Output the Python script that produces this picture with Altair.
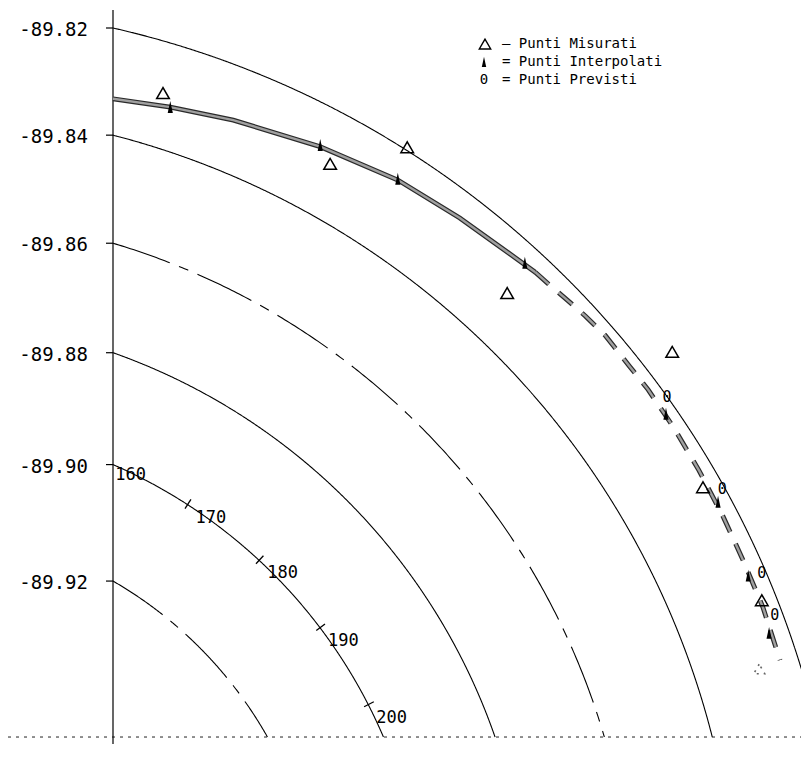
import altair as alt
import numpy as np
import pandas as pd

# ---------------- data ----------------
# Plot frame is a polar (South Pole centred) projection.
# Units: hundredths of a degree of distance from the pole (x east-ish, y north-ish in the frame).
circle_lat = [-89.82, -89.84, -89.86, -89.88, -89.90, -89.92]
circle_style = ["solid", "solid", "dashdot", "solid", "solid", "dashdot"]
circle_label = ["-89.82", "-89.84", "-89.86", "-89.88", "-89.90", "-89.92"]

lon_marks = [160, 170, 180, 190, 200]
lon_mark_label = ["160", "170", "180", "190", "200"]
lon_circle = -89.90
lon_orient = 227.1          # screen angle (deg) + longitude

frame_x = 4.0               # vertical axis offset from pole
frame_y = 3.933             # bottom line offset from pole

# Punti Misurati
meas_x = [4.96, 8.17, 9.65, 11.57, 14.74, 15.33, 16.46]
meas_y = [16.30, 14.94, 15.26, 12.46, 11.33, 8.73, 6.56]
# last measured point, printed only faintly
faint_x = [16.41]
faint_y = [5.24]
# Punti Interpolati
interp_x = [5.10, 7.98, 9.47, 11.91, 14.62, 15.62, 16.20, 16.60]
interp_y = [16.03, 15.30, 14.65, 13.04, 10.14, 8.45, 7.03, 5.93]
# Punti Previsti
pred_x = [14.64, 15.70, 16.46, 16.71]
pred_y = [10.46, 8.70, 7.08, 6.28]
# interpolated track (solid)
track_x = [4.00, 5.10, 6.31, 7.98, 9.47, 10.66, 11.43, 12.11]
track_y = [16.19, 16.03, 15.78, 15.27, 14.63, 13.90, 13.35, 12.86]
# predicted track (dashed)
fore_x = [12.11, 12.39, 12.72, 13.07, 13.45, 13.93, 14.28, 14.76, 15.25, 15.72, 16.10, 16.48, 16.81]
fore_y = [12.86, 12.61, 12.33, 12.02, 11.65, 11.04, 10.60, 9.89, 9.06, 8.16, 7.33, 6.43, 5.41]

legend_text = ["\u2013 Punti Misurati", "= Punti Interpolati", "= Punti Previsti"]

# ---------------- layout ----------------
W, H = 688, 736
xs = alt.Scale(domain=[4.0, 17.213], nice=False, zero=False)
ys = alt.Scale(domain=[3.799, 17.934], nice=False, zero=False)
FONT = "DejaVu Sans Mono"


def X(f):
    return alt.X(f, type="quantitative", scale=xs, axis=None)


def Y(f):
    return alt.Y(f, type="quantitative", scale=ys, axis=None)


# latitude circles
rows = []
for lat, st in zip(circle_lat, circle_style):
    r = (lat + 90) * 100
    t0 = np.arccos(frame_x / r)
    t1 = np.arcsin(frame_y / r)
    for i, t in enumerate(np.linspace(t0, t1, 240)):
        rows.append(dict(lat=str(lat), style=st, i=i, x=r * np.cos(t), y=r * np.sin(t)))
arcs_df = pd.DataFrame(rows)

arcs = alt.Chart(arcs_df).mark_line(color="black", strokeWidth=1.1, clip=True).encode(
    x=X("x"), y=Y("y"), detail="lat:N", order="i:Q",
    strokeDash=alt.StrokeDash("style:N", scale=alt.Scale(domain=["solid", "dashdot"],
                                                         range=[[1, 0], [60, 10, 10, 10]]), legend=None),
)

# y-axis (latitudes where circles meet the vertical line)
lab_df = pd.DataFrame({
    "label": circle_label,
    "ty": [np.sqrt(((l + 90) * 100) ** 2 - frame_x ** 2) for l in circle_lat],
})
axis_line = alt.Chart(pd.DataFrame({"a": [0]})).mark_rule(color="black", strokeWidth=1.2).encode(
    x=alt.value(0), y=alt.value(2), y2=alt.value(H))
yticks = alt.Chart(lab_df).mark_rule(color="black", strokeWidth=1.2).encode(
    x=alt.value(-7), x2=alt.value(0), y=Y("ty"))
ylabels = alt.Chart(lab_df).mark_text(align="right", baseline="middle", font=FONT, fontSize=19,
                                      dx=-25, dy=2, color="black").encode(
    x=alt.value(0), y=Y("ty"), text="label:N")

bottom = alt.Chart(pd.DataFrame({"fy": [frame_y]})).mark_rule(
    color="#222", strokeWidth=1, strokeDash=[3, 5]).encode(
    x=alt.value(-105), x2=alt.value(W), y=Y("fy"))

# longitude marks on the -89.90 circle
rl = (lon_circle + 90) * 100
th = np.radians(lon_orient - np.array(lon_marks, dtype=float))
lon_df = pd.DataFrame({
    "lab": lon_mark_label,
    "x": rl * np.cos(th), "y": rl * np.sin(th),
    "x1": (rl - 0.09) * np.cos(th), "y1": (rl - 0.09) * np.sin(th),
    "x2": (rl + 0.12) * np.cos(th), "y2": (rl + 0.12) * np.sin(th),
})
lon_ticks = alt.Chart(lon_df).mark_rule(color="black", strokeWidth=1.3, clip=True).encode(
    x=X("x1"), y=Y("y1"), x2="x2", y2="y2")
lon_labels = alt.Chart(lon_df).mark_text(align="left", baseline="middle", font=FONT, fontSize=17,
                                         dx=8, dy=13, color="black").encode(
    x=X("x"), y=Y("y"), text="lab:N")

# tracks
track_df = pd.DataFrame({"x": track_x, "y": track_y, "i": range(len(track_x))})
fore_df = pd.DataFrame({"x": fore_x, "y": fore_y, "i": range(len(fore_x))})
track_o = alt.Chart(track_df).mark_line(color="#2a2a2a", strokeWidth=4.8).encode(x=X("x"), y=Y("y"), order="i:Q")
track_i = alt.Chart(track_df).mark_line(color="#a0a0a0", strokeWidth=2.4).encode(x=X("x"), y=Y("y"), order="i:Q")
fore_o = alt.Chart(fore_df).mark_line(color="#2a2a2a", strokeWidth=4.8, strokeDash=[18, 13]).encode(
    x=X("x"), y=Y("y"), order="i:Q")
fore_i = alt.Chart(fore_df).mark_line(color="#a0a0a0", strokeWidth=2.4, strokeDash=[18, 13]).encode(
    x=X("x"), y=Y("y"), order="i:Q")

WEDGE = "M0,-1L0.42,0.95L-0.42,0.95Z"

meas = alt.Chart(pd.DataFrame({"x": meas_x, "y": meas_y})).mark_point(
    shape="triangle-up", filled=False, size=160, color="black", strokeWidth=1.5, opacity=1).encode(
    x=X("x"), y=Y("y"))
faint = alt.Chart(pd.DataFrame({"x": faint_x, "y": faint_y})).mark_point(
    shape="triangle-up", filled=False, size=120, color="black", strokeWidth=1.6,
    strokeDash=[2, 5], opacity=0.6).encode(x=X("x"), y=Y("y"))
interp = alt.Chart(pd.DataFrame({"x": interp_x, "y": interp_y})).mark_point(
    shape=WEDGE, filled=True, size=150, color="black", opacity=1).encode(x=X("x"), y=Y("y"))
pred = alt.Chart(pd.DataFrame({"x": pred_x, "y": pred_y})).mark_text(
    text="0", font=FONT, fontSize=15, color="black").encode(x=X("x"), y=Y("y"))

# legend block (top right): one text layer per row, positioned in pixels
leg_rows = []
for k, (t, py) in enumerate(zip(legend_text, [36, 54, 72])):
    leg_rows.append(
        alt.Chart(pd.DataFrame({"t": [t]})).mark_text(
            align="left", baseline="middle", font=FONT, fontSize=14, color="black").encode(
            x=alt.value(389), y=alt.value(py), text="t:N")
    )
leg_tri = alt.Chart(pd.DataFrame({"a": [0]})).mark_point(
    shape="triangle-up", filled=False, size=130, color="black", strokeWidth=1.4, opacity=1).encode(
    x=alt.value(372), y=alt.value(36))
leg_wedge = alt.Chart(pd.DataFrame({"a": [0]})).mark_point(
    shape=WEDGE, filled=True, size=110, color="black", opacity=1).encode(x=alt.value(371), y=alt.value(54))
leg_zero = alt.Chart(pd.DataFrame({"a": [0]})).mark_text(
    text="0", font=FONT, fontSize=14, color="black").encode(x=alt.value(371), y=alt.value(72))

chart = alt.layer(
    arcs, bottom, axis_line, yticks, ylabels, lon_ticks, lon_labels,
    track_o, track_i, fore_o, fore_i, meas, faint, interp, pred,
    *leg_rows, leg_tri, leg_wedge, leg_zero,
).properties(
    width=W, height=H,
    autosize=alt.AutoSizeParams(type="none"),
    padding={"left": 105, "top": 0, "right": 0, "bottom": 0},
    background="white",
).configure_view(stroke=None)

chart.save("out.html", embed_options={"renderer": "svg", "actions": False})
